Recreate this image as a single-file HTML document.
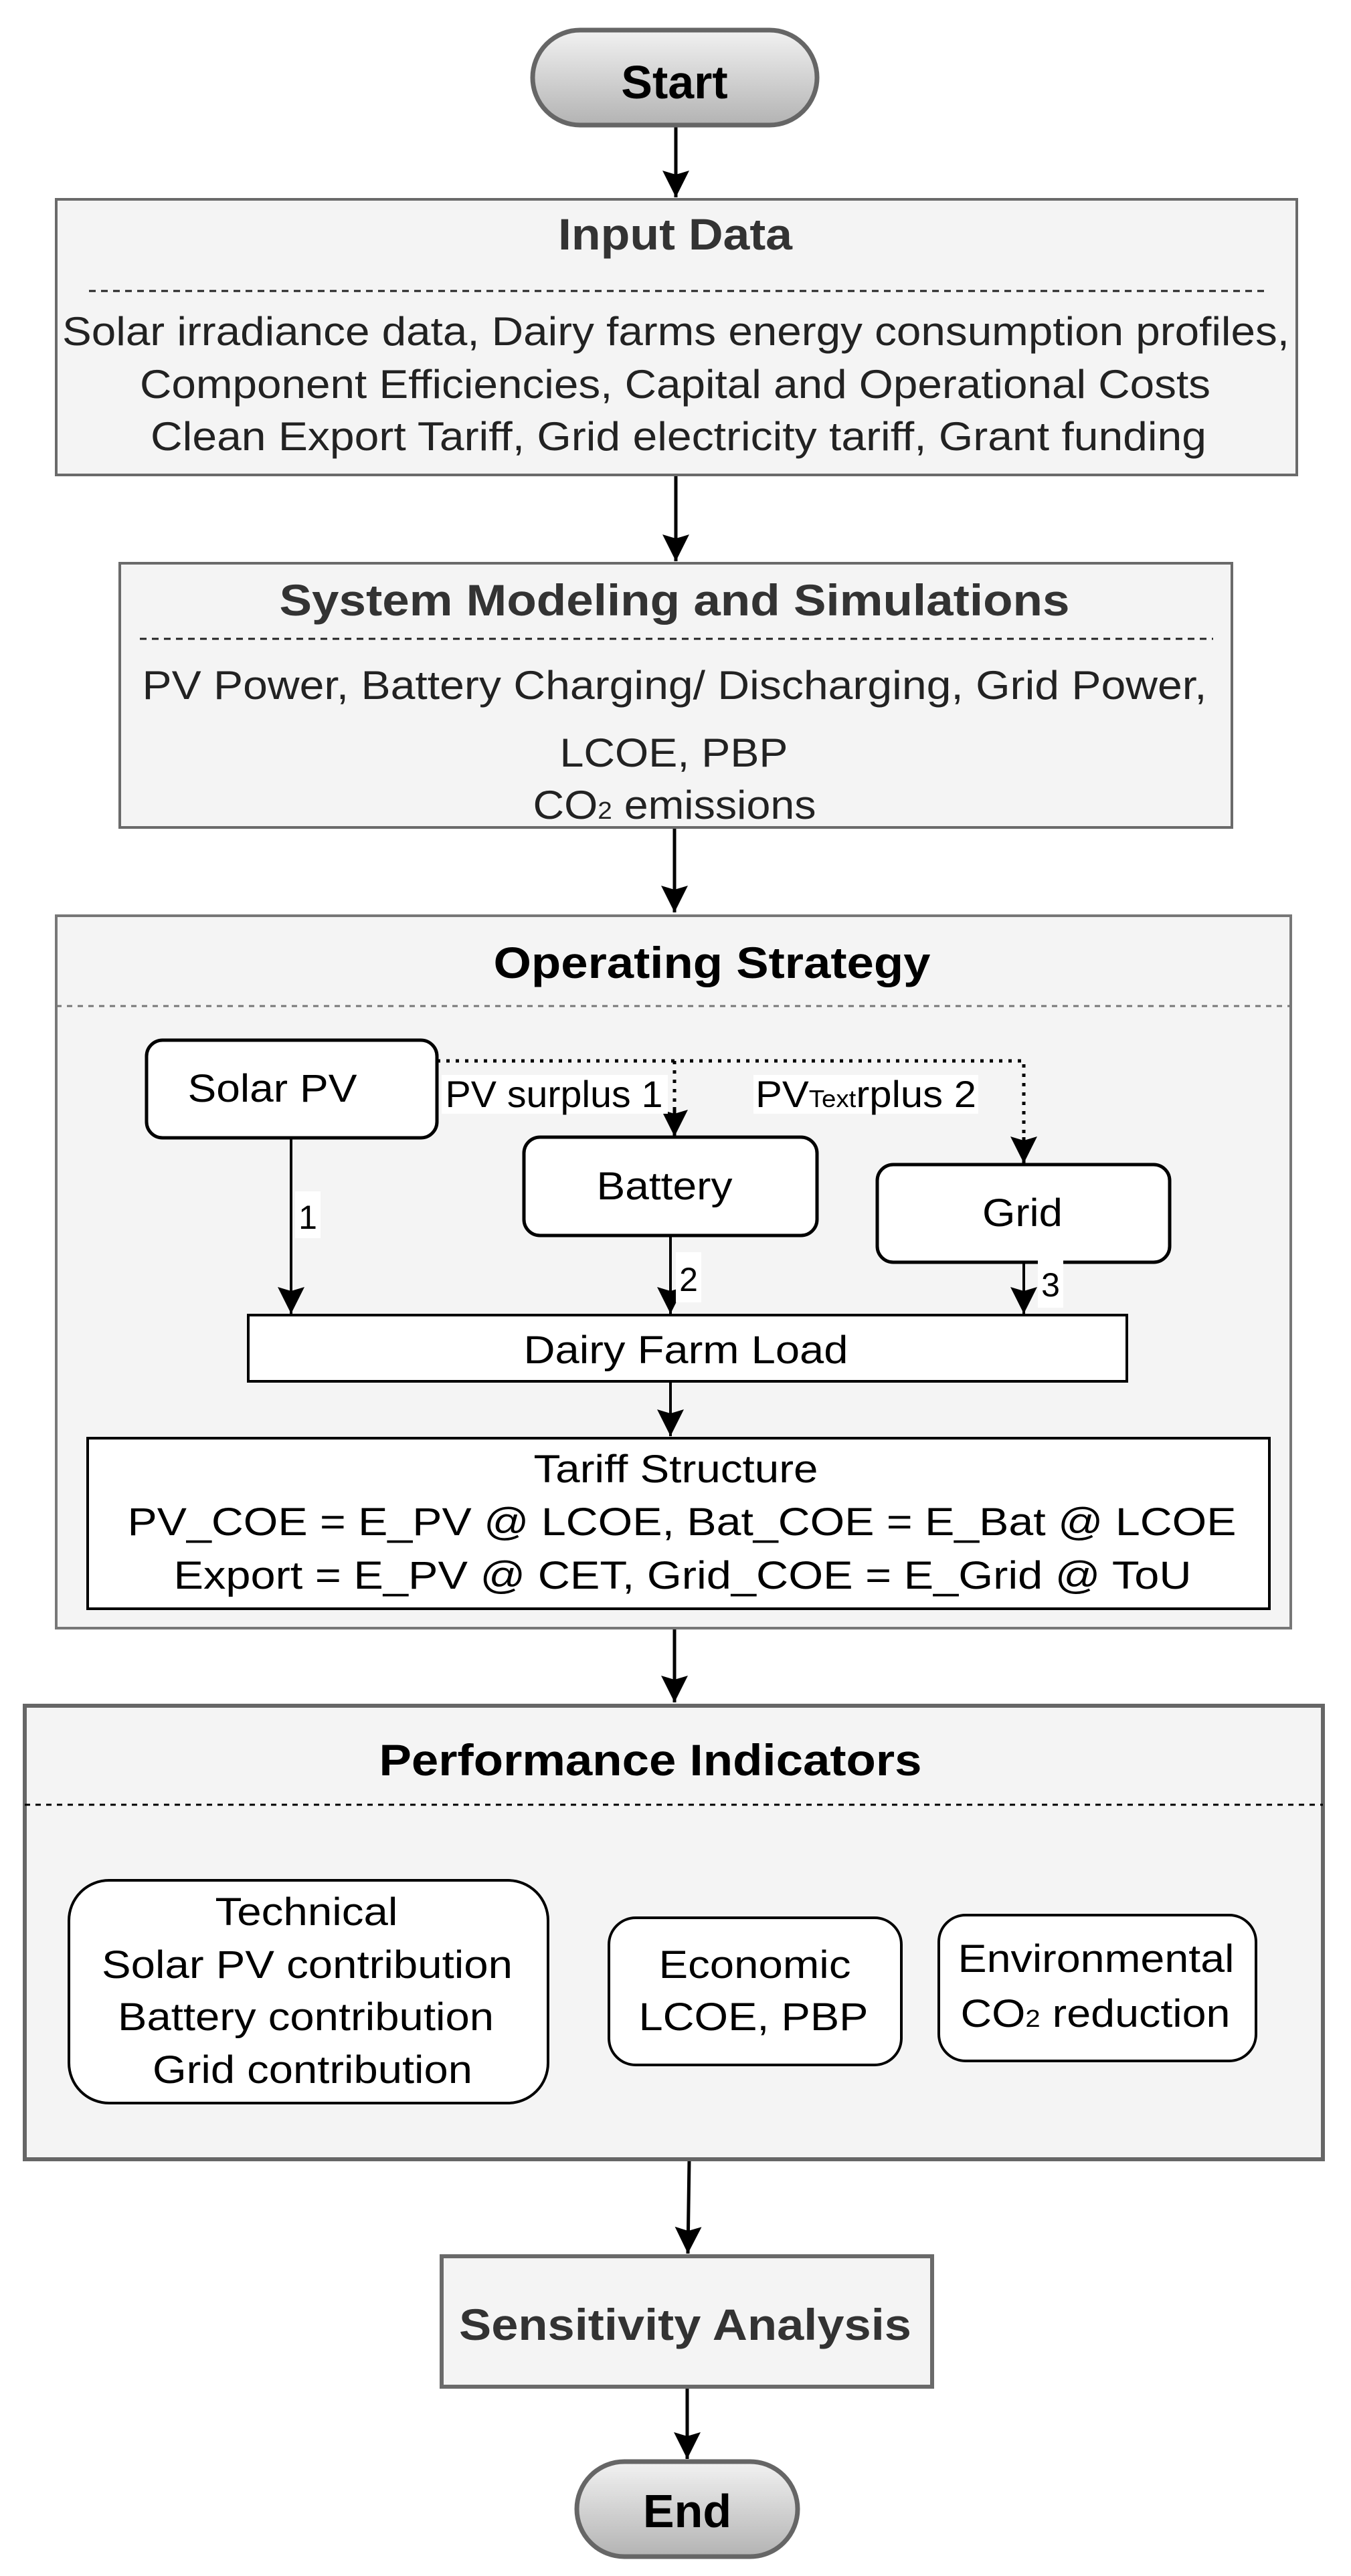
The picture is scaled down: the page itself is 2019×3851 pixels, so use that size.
<!DOCTYPE html>
<html><head><meta charset="utf-8"><style>html,body{margin:0;padding:0;background:#fff}svg{display:block}</style></head>
<body>
<svg width="2019" height="3851" viewBox="0 0 2019 3851" xmlns="http://www.w3.org/2000/svg" font-family="'Liberation Sans', Arial, sans-serif">
<defs>
<linearGradient id="g" x1="0" y1="0" x2="0" y2="1"><stop offset="0" stop-color="#f2f2f2"/><stop offset="1" stop-color="#b3b3b3"/></linearGradient>
<marker id="ah" markerUnits="userSpaceOnUse" markerWidth="44" markerHeight="44" refX="40" refY="20" orient="auto"><path d="M0,0 L40,20 L0,40 L6,20 Z" fill="#000"/></marker>
</defs>
<g stroke="#000" stroke-width="5" fill="none" marker-end="url(#ah)">
<line x1="1010" y1="190" x2="1010" y2="295"/>
<line x1="1010" y1="710" x2="1010" y2="839"/>
<line x1="1008" y1="1237" x2="1008" y2="1364"/>
<line x1="1008" y1="2434" x2="1008" y2="2545"/>
<line x1="1030" y1="3229" x2="1028" y2="3369"/>
<line x1="1027" y1="3569" x2="1027" y2="3676"/>
</g>
<!-- Start -->
<rect x="796" y="45" width="425" height="142" rx="71" fill="url(#g)" stroke="#666" stroke-width="7"/>
<text x="1008" y="147" font-size="70" font-weight="bold" text-anchor="middle" fill="#000">Start</text>
<!-- Input Data -->
<rect x="84" y="298" width="1854" height="412" fill="#f4f4f4" stroke="#6a6a6a" stroke-width="4"/>
<text x="1009" y="373" font-size="66" font-weight="bold" text-anchor="middle" fill="#333" textLength="350" lengthAdjust="spacingAndGlyphs">Input Data</text>
<line x1="133" y1="435" x2="1889" y2="435" stroke="#222" stroke-width="3" stroke-dasharray="10,8"/>
<g font-size="60" fill="#222" text-anchor="middle" lengthAdjust="spacingAndGlyphs">
<text x="1010" y="516" textLength="1834" lengthAdjust="spacingAndGlyphs">Solar irradiance data, Dairy farms energy consumption profiles,</text>
<text x="1009" y="595" textLength="1600" lengthAdjust="spacingAndGlyphs">Component Efficiencies, Capital and Operational Costs</text>
<text x="1014" y="673" textLength="1578" lengthAdjust="spacingAndGlyphs">Clean Export Tariff, Grid electricity tariff, Grant funding</text>
</g>
<!-- System Modeling -->
<rect x="179" y="842" width="1662" height="395" fill="#f4f4f4" stroke="#6a6a6a" stroke-width="4"/>
<text x="1008" y="920" font-size="66" font-weight="bold" text-anchor="middle" fill="#333" textLength="1181" lengthAdjust="spacingAndGlyphs">System Modeling and Simulations</text>
<line x1="209" y1="955" x2="1813" y2="955" stroke="#222" stroke-width="3" stroke-dasharray="10,8"/>
<g font-size="60" fill="#222" text-anchor="middle">
<text x="1008" y="1045" textLength="1591" lengthAdjust="spacingAndGlyphs">PV Power, Battery Charging/ Discharging, Grid Power,</text>
<text x="1007" y="1146" textLength="341" lengthAdjust="spacingAndGlyphs">LCOE, PBP</text>
<text x="1008" y="1224" textLength="423" lengthAdjust="spacingAndGlyphs">CO<tspan font-size="36">2</tspan> emissions</text>
</g>
<!-- Operating Strategy -->
<rect x="84" y="1369" width="1845" height="1065" fill="#f4f4f4" stroke="#777" stroke-width="4"/>
<text x="1064" y="1462" font-size="66" font-weight="bold" text-anchor="middle" fill="#000" textLength="653" lengthAdjust="spacingAndGlyphs">Operating Strategy</text>
<line x1="84" y1="1504" x2="1929" y2="1504" stroke="#777" stroke-width="3" stroke-dasharray="8,8"/>
<!-- dotted -->
<g stroke="#000" stroke-width="5" fill="none" stroke-dasharray="5,9">
<polyline points="653,1586 1530,1586 1530,1700"/>
<line x1="1008" y1="1586" x2="1008" y2="1660"/>
</g>
<g stroke="#000" stroke-width="5" fill="none" marker-end="url(#ah)">
<line x1="1530" y1="1700" x2="1530" y2="1739"/>
<line x1="1008" y1="1655" x2="1008" y2="1699"/>
</g>
<rect x="219" y="1555" width="434" height="146" rx="24" fill="#fff" stroke="#000" stroke-width="5"/>
<text x="407" y="1647" font-size="58" text-anchor="middle" textLength="253" lengthAdjust="spacingAndGlyphs">Solar PV</text>
<rect x="660" y="1607" width="338" height="58" fill="#fff"/>
<text x="828" y="1655" font-size="56" text-anchor="middle" textLength="325" lengthAdjust="spacingAndGlyphs">PV surplus 1</text>
<rect x="1126" y="1607" width="336" height="58" fill="#fff"/>
<text x="1129" y="1655" font-size="56" textLength="330" lengthAdjust="spacingAndGlyphs">PV<tspan font-size="36">Text</tspan>rplus 2</text>
<rect x="783" y="1700" width="438" height="147" rx="24" fill="#fff" stroke="#000" stroke-width="5"/>
<text x="993" y="1793" font-size="58" text-anchor="middle" textLength="203" lengthAdjust="spacingAndGlyphs">Battery</text>
<rect x="1311" y="1741" width="437" height="146" rx="24" fill="#fff" stroke="#000" stroke-width="5"/>
<text x="1528" y="1833" font-size="58" text-anchor="middle" textLength="120" lengthAdjust="spacingAndGlyphs">Grid</text>
<g stroke="#000" stroke-width="4" fill="none" marker-end="url(#ah)">
<line x1="435" y1="1701" x2="435" y2="1964"/>
<line x1="1002" y1="1847" x2="1002" y2="1964"/>
<line x1="1530" y1="1887" x2="1530" y2="1964"/>
</g>
<rect x="441" y="1781" width="38" height="70" fill="#fff"/>
<text x="460" y="1837" font-size="50" text-anchor="middle">1</text>
<rect x="1010" y="1872" width="38" height="75" fill="#fff"/>
<text x="1029" y="1930" font-size="50" text-anchor="middle">2</text>
<rect x="1551" y="1880" width="38" height="75" fill="#fff"/>
<text x="1570" y="1938" font-size="50" text-anchor="middle">3</text>
<rect x="371" y="1966" width="1313" height="99" fill="#fff" stroke="#000" stroke-width="4"/>
<text x="1025" y="2038" font-size="58" text-anchor="middle" textLength="485" lengthAdjust="spacingAndGlyphs">Dairy Farm Load</text>
<g stroke="#000" stroke-width="4" fill="none" marker-end="url(#ah)">
<line x1="1002" y1="2065" x2="1002" y2="2147"/>
</g>
<rect x="131" y="2150" width="1766" height="255" fill="#fff" stroke="#000" stroke-width="4"/>
<g font-size="58" text-anchor="middle">
<text x="1010" y="2216" textLength="425" lengthAdjust="spacingAndGlyphs">Tariff Structure</text>
<text x="1019" y="2295" textLength="1657" lengthAdjust="spacingAndGlyphs">PV_COE = E_PV @ LCOE,  Bat_COE = E_Bat @ LCOE</text>
<text x="1020" y="2375" textLength="1521" lengthAdjust="spacingAndGlyphs">Export = E_PV @ CET,  Grid_COE = E_Grid @ ToU</text>
</g>
<!-- Performance -->
<rect x="37" y="2550" width="1940" height="678" fill="#f4f4f4" stroke="#666" stroke-width="6"/>
<text x="972" y="2654" font-size="66" font-weight="bold" text-anchor="middle" fill="#000" textLength="811" lengthAdjust="spacingAndGlyphs">Performance Indicators</text>
<line x1="37" y1="2698" x2="1977" y2="2698" stroke="#000" stroke-width="3" stroke-dasharray="8,8"/>
<rect x="103" y="2811" width="716" height="333" rx="60" fill="#fff" stroke="#000" stroke-width="4"/>
<g font-size="58" text-anchor="middle">
<text x="458" y="2878" textLength="273" lengthAdjust="spacingAndGlyphs">Technical</text>
<text x="459" y="2957" textLength="614" lengthAdjust="spacingAndGlyphs">Solar PV contribution</text>
<text x="457" y="3035" textLength="562" lengthAdjust="spacingAndGlyphs">Battery contribution</text>
<text x="467" y="3114" textLength="478" lengthAdjust="spacingAndGlyphs">Grid contribution</text>
</g>
<rect x="910" y="2867" width="437" height="220" rx="40" fill="#fff" stroke="#000" stroke-width="4"/>
<g font-size="58" text-anchor="middle">
<text x="1128" y="2957" textLength="287" lengthAdjust="spacingAndGlyphs">Economic</text>
<text x="1126" y="3035" textLength="343" lengthAdjust="spacingAndGlyphs">LCOE, PBP</text>
</g>
<rect x="1403" y="2863" width="474" height="218" rx="40" fill="#fff" stroke="#000" stroke-width="4"/>
<g font-size="58" text-anchor="middle">
<text x="1638" y="2948" textLength="413" lengthAdjust="spacingAndGlyphs">Environmental</text>
<text x="1637" y="3030" textLength="403" lengthAdjust="spacingAndGlyphs">CO<tspan font-size="36">2</tspan> reduction</text>
</g>
<!-- Sensitivity -->
<rect x="660" y="3373" width="733" height="195" fill="#f4f4f4" stroke="#6a6a6a" stroke-width="6"/>
<text x="1024" y="3498" font-size="66" font-weight="bold" text-anchor="middle" fill="#333" textLength="676" lengthAdjust="spacingAndGlyphs">Sensitivity Analysis</text>
<!-- End -->
<rect x="862" y="3680" width="330" height="142" rx="71" fill="url(#g)" stroke="#666" stroke-width="7"/>
<text x="1027" y="3778" font-size="70" font-weight="bold" text-anchor="middle" fill="#000">End</text>
</svg>
</body></html>
